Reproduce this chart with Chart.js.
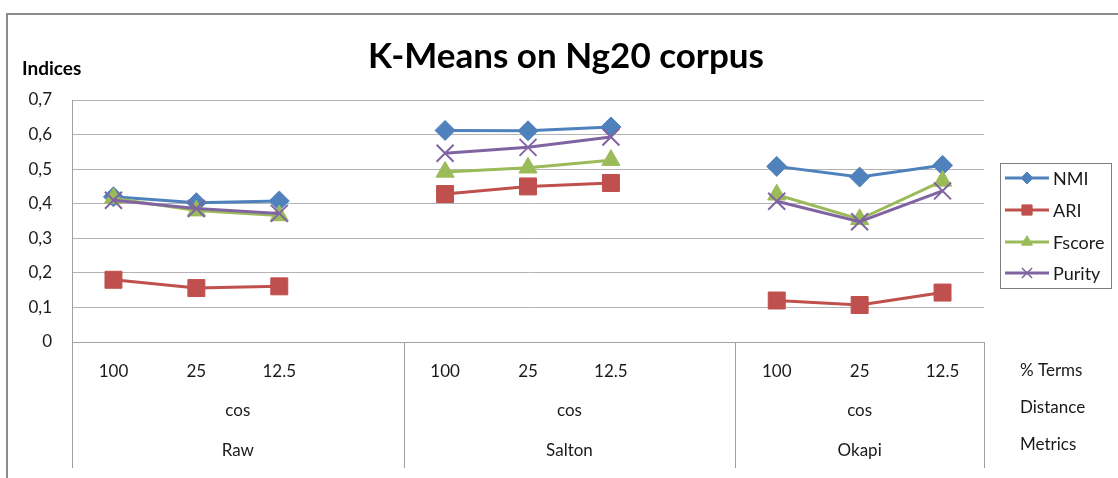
<!DOCTYPE html>
<html>
<head>
<meta charset="utf-8">
<script src="https://cdn.jsdelivr.net/npm/chart.js@4/dist/chart.umd.min.js"></script>
<style>
  html, body { margin: 0; padding: 0; background: #ffffff; }
  #wrap { position: relative; width: 1118px; height: 478px; }
</style>
</head>
<body>
<div id="wrap"><canvas id="kmeansChart"></canvas></div>
<script>
// Data
const termLabels = ["100", "25", "12.5", "", "100", "25", "12.5", "", "100", "25", "12.5"];
const groupNames = ["Raw", "Salton", "Okapi"];
const groupSlots = [[0, 3], [4, 7], [8, 10]];
const distanceName = "cos";
const levelNames = ["% Terms", "Distance", "Metrics"];

const nmi = [0.42, 0.403, 0.408, null, 0.612, 0.611, 0.622, null, 0.508, 0.477, 0.511];
const ari = [0.18, 0.156, 0.161, null, 0.428, 0.45, 0.46, null, 0.12, 0.107, 0.143];
const fscore = [0.416, 0.38, 0.366, null, 0.492, 0.504, 0.526, null, 0.426, 0.355, 0.466];
const purity = [0.41, 0.386, 0.372, null, 0.546, 0.563, 0.593, null, 0.407, 0.348, 0.437];

const FONT = "Lato, 'Open Sans', sans-serif";
const GRID = "#b4b4b4";
const AXIS = "#a0a0a0";

const series = [
  { label: "NMI", data: nmi, color: "#4f81bd", style: "rectRot", radius: 10 },
  { label: "ARI", data: ari, color: "#c0504d", style: "rect", radius: 12 },
  { label: "Fscore", data: fscore, color: "#9bbb59", style: "triangle", radius: 10.5 },
  { label: "Purity", data: purity, color: "#8064a2", style: "crossRot", radius: 12 },
];

// Frame, title, multi-level category axis and legend box (Excel look)
const excelDecor = {
  id: "excelDecor",
  afterDraw(chart) {
    const ctx = chart.ctx;
    const area = chart.chartArea;
    const x = chart.scales.x;
    ctx.save();

    // outer frame (top + left only visible)
    ctx.strokeStyle = "#8c8c8c";
    ctx.lineWidth = 2;
    ctx.beginPath();
    ctx.moveTo(7, 478);
    ctx.lineTo(7, 14);
    ctx.lineTo(1118, 14);
    ctx.stroke();

    // title
    ctx.fillStyle = "#000";
    ctx.textAlign = "center";
    ctx.textBaseline = "alphabetic";
    ctx.font = "bold 35px " + FONT;
    ctx.fillText("K-Means on Ng20 corpus", 566, 68);

    ctx.textAlign = "left";
    ctx.font = "bold 19px " + FONT;
    ctx.fillText("Indices", 22, 75);

    // group dividers
    const bounds = [area.left];
    for (let g = 0; g < groupSlots.length - 1; g++) {
      const a = x.getPixelForValue(groupSlots[g][1]);
      const b = x.getPixelForValue(groupSlots[g + 1][0]);
      bounds.push((a + b) / 2);
    }
    bounds.push(area.right);
    ctx.strokeStyle = AXIS;
    ctx.lineWidth = 1;
    bounds.forEach((bx) => {
      const px = Math.round(bx) + 0.5;
      ctx.beginPath();
      ctx.moveTo(px, area.bottom);
      ctx.lineTo(px, 468);
      ctx.stroke();
    });

    // second and third level labels
    ctx.fillStyle = "#1a1a1a";
    ctx.font = "17px " + FONT;
    ctx.textAlign = "center";
    ctx.textBaseline = "middle";
    groupNames.forEach((name, g) => {
      const cx = (bounds[g] + bounds[g + 1]) / 2;
      ctx.fillText(distanceName, cx, 411);
      ctx.fillText(name, cx, 451);
    });
    ctx.textAlign = "left";
    ctx.fillText(levelNames[0], 1020, 371);
    ctx.fillText(levelNames[1], 1020, 408);
    ctx.fillText(levelNames[2], 1020, 445);

    // legend
    ctx.strokeStyle = "#7f7f7f";
    ctx.lineWidth = 1;
    ctx.strokeRect(1000.5, 163.5, 111, 125);
    const rows = [178, 210, 242, 273];
    series.forEach((s, i) => {
      const y = rows[i];
      ctx.strokeStyle = s.color;
      ctx.fillStyle = s.color;
      ctx.lineWidth = 3;
      ctx.beginPath();
      ctx.moveTo(1005, y);
      ctx.lineTo(1049, y);
      ctx.stroke();
      ctx.lineWidth = s.style === "crossRot" ? 1.5 : 1;
      Chart.helpers.drawPoint(ctx, {
        pointStyle: s.style,
        radius: s.radius * 0.6,
        rotation: 0,
        borderWidth: s.style === "crossRot" ? 1.5 : 1,
      }, 1027, y);
      ctx.fillStyle = "#1a1a1a";
      ctx.textAlign = "left";
      ctx.textBaseline = "middle";
      ctx.font = "18px " + FONT;
      ctx.fillText(s.label, 1053, y + 1);
    });

    ctx.restore();
  },
};

const ctxK = document.getElementById("kmeansChart").getContext("2d");
let kmeansChart = new Chart(ctxK, {
  type: "line",
  data: {
    labels: termLabels,
    datasets: series.map((s, i) => ({
      label: s.label,
      data: s.data,
      borderColor: s.color,
      backgroundColor: s.color,
      pointBackgroundColor: s.color,
      pointBorderColor: s.color,
      pointStyle: s.style,
      pointRadius: s.radius,
      pointBorderWidth: s.style === "crossRot" ? 2 : 1,
      borderWidth: 3,
      tension: 0,
      spanGaps: false,
      order: series.length - i,
    })),
  },
  options: {
    responsive: true,
    maintainAspectRatio: false,
    animation: false,
    events: [],
    layout: { padding: { top: 100, right: 134, left: 0, bottom: 0 } },
    plugins: {
      legend: { display: false },
      title: { display: false },
      tooltip: { enabled: false },
    },
    scales: {
      x: {
        offset: true,
        grid: { display: false, drawTicks: false },
        border: { display: true, color: AXIS, width: 1 },
        ticks: {
          font: { family: FONT, size: 17 },
          color: "#1a1a1a",
          padding: 19,
          maxRotation: 0,
          minRotation: 0,
          autoSkip: false,
        },
        afterFit(scale) { scale.height = 136; },
      },
      y: {
        min: 0,
        max: 0.7,
        grid: { color: GRID, drawTicks: false },
        border: { display: true, color: AXIS, width: 1 },
        ticks: {
          stepSize: 0.1,
          padding: 20,
          font: { family: FONT, size: 17 },
          color: "#1a1a1a",
          callback: (v) => (v === 0 ? "0" : v.toFixed(1).replace(".", ",")),
        },
        afterFit(scale) { scale.width = 72; },
      },
    },
  },
  plugins: [excelDecor],
});
</script>
</body>
</html>
